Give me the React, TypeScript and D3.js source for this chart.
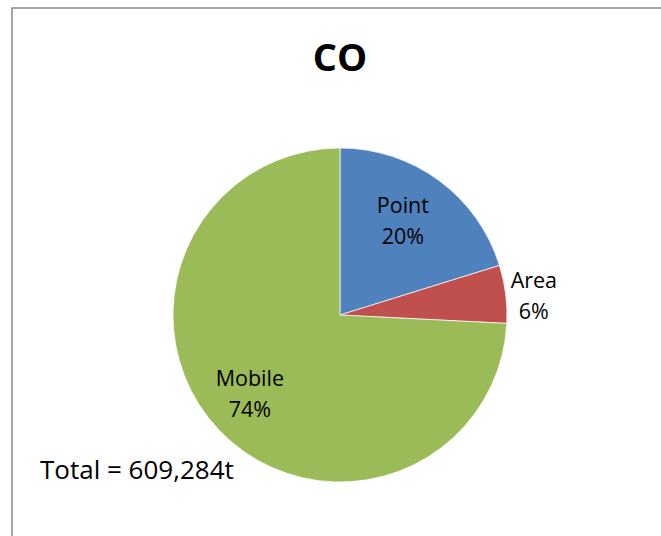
import React from "react";
import * as d3 from "d3";

const categories = ["Point", "Area", "Mobile"];
const shares = [20.2, 5.6, 74.2];
const pctLabels = ["20%", "6%", "74%"];
const colors = ["#4F81BD", "#C0504D", "#9BBB59"];
const title = "CO";
const totalLabel = "Total = 609,284t";

export default function App() {
  const W = 661, H = 536;
  const cx = 340, cy = 315, r = 167;
  const pie = d3.pie<number>().sort(null).value((d) => d)(shares);
  const arc = d3.arc<d3.PieArcDatum<number>>().innerRadius(0).outerRadius(r);
  const labelRadius = [0.635, 1.17, 0.745];
  const labelDy = [-2, 12, 0];
  const font = "'Open Sans', sans-serif";
  const labelArc = (i: number): [number, number] => {
    const p = pie[i];
    const a = (p.startAngle + p.endAngle) / 2;
    const rr = r * labelRadius[i];
    return [cx + rr * Math.sin(a), cy - rr * Math.cos(a) + labelDy[i]];
  };
  return (
    <svg width={W} height={H} style={{ position: "absolute", left: 0, top: 0 }}>
      <rect x={12} y={8} width={W} height={H} fill="#fff" stroke="#888" strokeWidth={1.5} />
      <text x={cx} y={71} textAnchor="middle" fontFamily={font} fontWeight="bold" fontSize={38}>
        {title}
      </text>
      <g transform={`translate(${cx},${cy})`}>
        {pie.map((p, i) => (
          <path key={i} d={arc(p) || ""} fill={colors[i]} stroke="#fff" strokeWidth={0.7} />
        ))}
      </g>
      {pie.map((p, i) => {
        const [x, y] = labelArc(i);
        return (
          <text key={i} x={x} textAnchor="middle" fontFamily={font} fontSize={21.5} fill="#000">
            <tspan x={x} y={y - 15}>{categories[i]}</tspan>
            <tspan x={x} y={y + 16}>{pctLabels[i]}</tspan>
          </text>
        );
      })}
      <text x={40} y={479} fontFamily={font} fontSize={26}>
        {totalLabel}
      </text>
    </svg>
  );
}
